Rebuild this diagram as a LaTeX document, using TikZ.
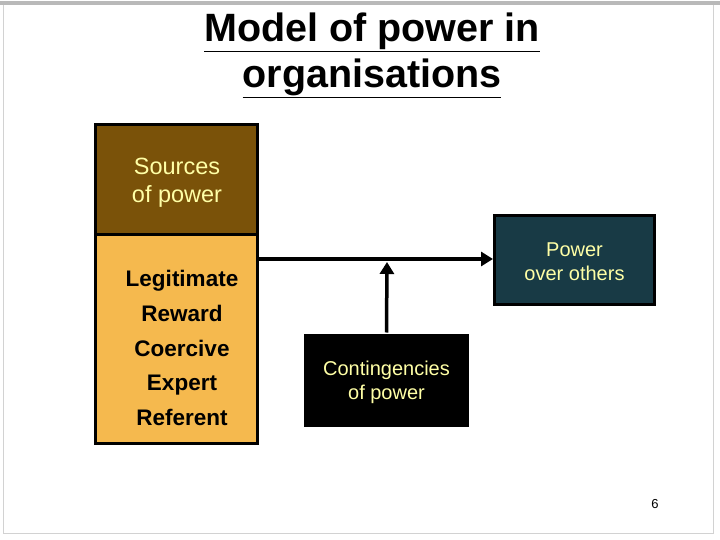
\documentclass[tikz,border=0pt]{standalone}
\usepackage{fontspec}
\setmainfont{Liberation Sans}
\usepackage{tikz}
\usetikzlibrary{arrows.meta,calc,positioning}

\definecolor{srcbrown}{HTML}{7A5209}
\definecolor{srcorange}{HTML}{F5B94E}
\definecolor{powerteal}{HTML}{183A45}
\definecolor{paleyellow}{HTML}{FFFFA6}

\begin{document}
\begin{tikzpicture}[x=1pt, y=-1pt,
  box/.style={draw=black, line width=3pt, inner sep=0pt, align=center},
  lbl/.style={font=\fontsize{20}{24}\selectfont, text=paleyellow, align=center},
  flow/.style={line width=3.5pt, -{Triangle[length=12pt,width=14pt]}},
  >=Stealth
]
\useasboundingbox (0,0) rectangle (720,540);

% Slide frame
\draw[gray!35, line width=1pt] (3,4) rectangle (713,533);
\draw[gray!55, line width=4pt] (0,3) -- (720,3);

% Title
\node[font=\bfseries\fontsize{39.5}{46}\selectfont, align=center] (title) at (372,55)
  {\underline{Model of power in}\\\underline{organisations}};

% Sources of power (two stacked boxes)
\node[box, fill=srcbrown, minimum width=162pt, minimum height=109pt] (srchead) at (176.5,179.5) {};
\node[box, fill=srcorange, minimum width=162pt, minimum height=209pt] (srclist) at (176.5,338.5) {};
\node[lbl, font=\fontsize{23.5}{28}\selectfont] (srcheadtxt) at (177,183) {Sources\\of power};
\node[font=\bfseries\fontsize{22.5}{34.7}\selectfont, align=center] (srcitems) at (182,348)
  {Legitimate\\Reward\\Coercive\\Expert\\Referent};

% Outcome and moderator
\node[box, fill=powerteal, minimum width=160pt, minimum height=89pt] (power) at (574.5,260) {};
\node[lbl] (powertxt) at (574.5,262) {Power\\over others};
\node[box, draw=none, fill=black, minimum width=165pt, minimum height=93pt] (cont) at (386.5,380.5) {};
\node[lbl] (conttxt) at (386.5,382.5) {Contingencies\\of power};

% Arrows
\coordinate (tip) at (387,262);
\draw[flow] (srclist.east |- 0,259) -- (power.west |- 0,259);
\draw[flow] (cont.north) -- (tip);

% Page number
\node[font=\fontsize{13}{15}\selectfont] (pagenum) at (655,504) {6};

\end{tikzpicture}
\end{document}
